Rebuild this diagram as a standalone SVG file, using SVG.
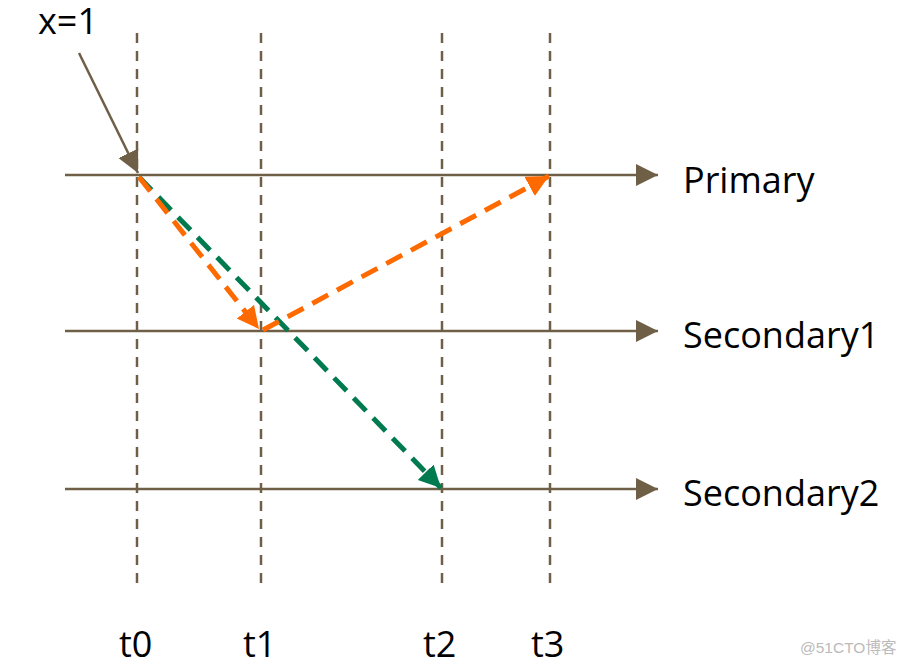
<svg xmlns="http://www.w3.org/2000/svg" width="908" height="666" viewBox="0 0 908 666">
<style>
.vl{stroke:#6F5F47;stroke-width:2.5;stroke-dasharray:10 8;fill:none}
.hl{stroke:#6F5F47;stroke-width:2.5;fill:none}
.or{stroke:#FF6A00;stroke-width:5;stroke-dasharray:18 10;fill:none}
.gr{stroke:#007A4E;stroke-width:5;stroke-dasharray:18 10;fill:none}
.lbl{font-family:"Open Sans","Liberation Sans",sans-serif;font-size:36px;fill:#000}
.wm{font-family:"Liberation Sans","Noto Sans CJK SC",sans-serif;font-size:15.5px;fill:#BBBBBB}
</style>
<defs>
<marker id="ah" markerUnits="userSpaceOnUse" markerWidth="24" markerHeight="24" refX="22" refY="11" orient="auto" viewBox="0 0 24 22">
<path d="M0,0 L22,11 L0,22 Z" fill="#6F5F47"/>
</marker>
<marker id="ao" markerUnits="userSpaceOnUse" markerWidth="24" markerHeight="24" refX="22" refY="11" orient="auto" viewBox="0 0 24 22">
<path d="M0,0 L22,11 L0,22 Z" fill="#FF6A00"/>
</marker>
<marker id="ag" markerUnits="userSpaceOnUse" markerWidth="24" markerHeight="24" refX="22" refY="11" orient="auto" viewBox="0 0 24 22">
<path d="M0,0 L22,11 L0,22 Z" fill="#007A4E"/>
</marker>
</defs>
<g id="grid">
<line class="vl" x1="137" y1="33" x2="137" y2="588"/>
<line class="vl" x1="261" y1="33" x2="261" y2="588"/>
<line class="vl" x1="442" y1="33" x2="442" y2="588"/>
<line class="vl" x1="550" y1="33" x2="550" y2="588"/>
</g>
<g id="primary">
<line class="hl" x1="65" y1="175" x2="658" y2="175" marker-end="url(#ah)"/>
<text class="lbl" x="683" y="193">Primary</text>
</g>
<g id="secondary1">
<line class="hl" x1="65" y1="331" x2="658" y2="331" marker-end="url(#ah)"/>
<text class="lbl" x="683" y="348">Secondary1</text>
</g>
<g id="secondary2">
<line class="hl" x1="65" y1="489" x2="658" y2="489" marker-end="url(#ah)"/>
<text class="lbl" x="683" y="506">Secondary2</text>
</g>
<g id="x1">
<text class="lbl" x="38" y="34">x=1</text>
</g>
<g id="connectors">
<line class="hl" x1="79" y1="53" x2="138" y2="173" marker-end="url(#ah)"/>
<line class="gr" x1="139" y1="177" x2="441" y2="488" marker-end="url(#ag)"/>
<line class="or" x1="139" y1="177" x2="259" y2="329" marker-end="url(#ao)"/>
<line class="or" x1="263" y1="330" x2="549" y2="176" marker-end="url(#ao)"/>
</g>
<g id="times">
<text class="lbl" x="119" y="657">t0</text>
<text class="lbl" x="243" y="657">t1</text>
<text class="lbl" x="423" y="657">t2</text>
<text class="lbl" x="531" y="657">t3</text>
</g>
<text class="wm" x="800" y="653">@51CTO博客</text>
</svg>
